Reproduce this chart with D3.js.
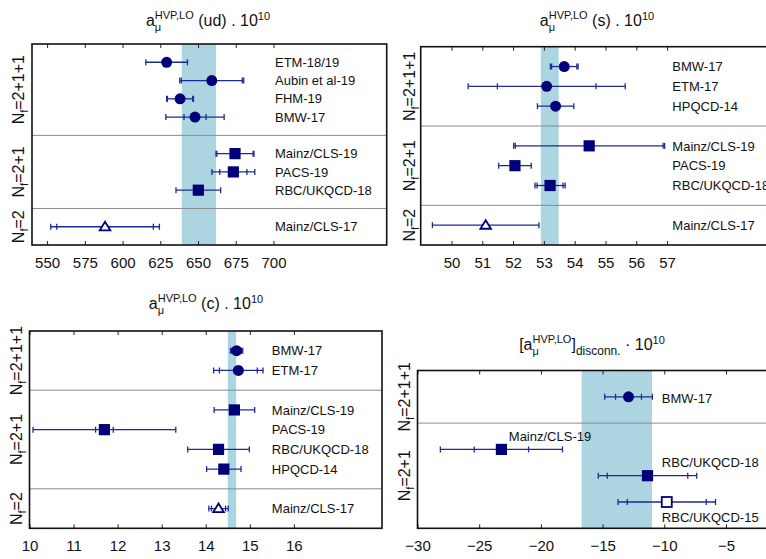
<!DOCTYPE html>
<html><head><meta charset="utf-8">
<script src="https://cdn.jsdelivr.net/npm/d3@7"></script>
<style>
body{margin:0;background:#fff}
text{font-family:"Liberation Sans",Arial,Helvetica,sans-serif;white-space:pre}
</style>
</head><body>
<svg id="chart" width="766" height="559"></svg>
<script>
// ---------------- DATA ----------------
const groupNames = ["2+1+1", "2+1", "2"];

// a_mu HVP,LO (ud)
const udNames   = ["ETM-18/19","Aubin et al-19","FHM-19","BMW-17","Mainz/CLS-19","PACS-19","RBC/UKQCD-18","Mainz/CLS-17"];
const udGroup   = [0,0,0,0,1,1,1,2];
const udValue   = [629.2,659.1,638.1,648.0,674.5,673.4,650.2,588.4];
const udErrStat = [13.8,20.2,8.4,7.3,12.0,9.0,14.8,32.0];
const udErrTot  = [13.8,21.2,8.9,19.3,12.6,14.2,14.8,36.0];
const udMarker  = ["circle","circle","circle","circle","square","square","square","triangle"];
const udBand    = [639.2, 661.9];
const udTicks   = [550,575,600,625,650,675,700];

// a_mu HVP,LO (s)
const sNames    = ["BMW-17","ETM-17","HPQCD-14","Mainz/CLS-19","PACS-19","RBC/UKQCD-18","Mainz/CLS-17"];
const sGroup    = [0,0,0,1,1,1,2];
const sValue    = [53.66,53.09,53.38,54.47,52.06,53.2,51.11];
const sErrStat  = [0.41,1.6,0.59,2.4,0.53,0.42,1.73];
const sErrTot   = [0.45,2.55,0.59,2.45,0.53,0.49,1.73];
const sMarker   = ["circle","circle","circle","square","square","square","triangle"];
const sBand     = [52.9, 53.48];
const sTicks    = [50,51,52,53,54,55,56,57];

// a_mu HVP,LO (c)
const cNames    = ["BMW-17","ETM-17","Mainz/CLS-19","PACS-19","RBC/UKQCD-18","HPQCD-14","Mainz/CLS-17"];
const cGroup    = [0,0,1,1,1,1,2];
const cValue    = [14.7,14.74,14.65,11.7,14.29,14.41,14.29];
const cErrStat  = [0.11,0.43,0.46,0.2,0.7,0.39,0.16];
const cErrTot   = [0.14,0.56,0.46,1.62,0.7,0.39,0.22];
const cMarker   = ["circle","circle","square","square","square","square","triangle"];
const cBand     = [14.5, 14.69];
const cTicks    = [10,11,12,13,14,15,16];

// [a_mu HVP,LO] disconnected
const dNames    = ["BMW-17","Mainz/CLS-19","RBC/UKQCD-18","RBC/UKQCD-15"];
const dGroup    = [0,1,1,1];
const dValue    = [-12.9,-23.2,-11.36,-9.8];
const dErrStat  = [1.05,2.2,3.26,3.2];
const dErrTot   = [1.93,4.95,3.99,3.95];
const dMarker   = ["circle","square","square","openSquare"];
const dBand     = [-16.7, -11.0];
const dTicks    = [-30,-25,-20,-15,-10,-5];

// ---------------- STYLE / LAYOUT ----------------
const POINT = "#000078", BAR = "#1d2a96", BAND = "#acd5e1";
const svg = d3.select("#chart");
svg.append("rect").attr("width",766).attr("height",559).attr("fill","#fff");

function build(names, group, value, stat, tot, marker){
  const rows = []; let slot = 1; const seps = []; const spans = [];
  let start = 0;
  for (let g = 0; g < groupNames.length; g++){
    const idx = names.map((_, i) => i).filter(i => group[i] === g);
    if (!idx.length) continue;
    idx.forEach(i => { rows.push({name:names[i], v:value[i], es:stat[i], et:tot[i], m:marker[i], slot:slot, g:g}); slot++; });
    spans.push({g:g, from:start, to:slot});
    seps.push(slot);
    start = slot; slot++;
  }
  seps.pop();
  return {rows, seps, spans, nSlots: start};
}

const panels = [
  {d: build(udNames,udGroup,udValue,udErrStat,udErrTot,udMarker), band: udBand, ticks: udTicks,
   xd:[540,775], xr:[32,386.7], yr:[44,245], labelX:701, grpX:24, title:{cx:208, y:26, kind:"(ud)"}},
  {d: build(sNames,sGroup,sValue,sErrStat,sErrTot,sMarker), band: sBand, ticks: sTicks,
   xd:[49,60.5], xr:[420.7,774.9], yr:[46.7,245], labelX:57.17, grpX:414.5, title:{cx:597, y:26, kind:"(s)"}},
  {d: build(cNames,cGroup,cValue,cErrStat,cErrTot,cMarker), band: cBand, ticks: cTicks,
   xd:[10,18], xr:[29.5,382], yr:[331,528.3], labelX:15.5, grpX:21.7, title:{cx:206, y:309, kind:"(c)"}},
  {d: build(dNames,dGroup,dValue,dErrStat,dErrTot,dMarker), band: dBand, ticks: dTicks,
   xd:[-30,0], xr:[417.5,787.7], yr:[370.5,528.3], labelX:-10.2, grpX:409.5, title:{cx:592, y:350, kind:"disc"},
   labelPlace: [{x:-10.2, dy:0.05}, {x:-22.6, dy:-0.5}, {x:-10.2, dy:-0.5}, {x:-10.2, dy:0.57}]}
];

function drawTitle(t){
  const txt = svg.append("text").attr("y", t.y).attr("font-size", 16).attr("fill","#111");
  txt.append("tspan").text(t.kind === "disc" ? "[a" : "a");
  const mu = txt.append("tspan").attr("font-size", 11).attr("dy", 5).text("μ");
  const muW = mu.node().getComputedTextLength();
  txt.append("tspan").attr("font-size", 11).attr("dx", -muW).attr("dy", -12).text("HVP,LO");
  if (t.kind === "disc"){
    txt.append("tspan").attr("dy", 7).text("]");
    txt.append("tspan").attr("font-size", 12).attr("dy", 5).text("disconn.");
    txt.append("tspan").attr("dy", -5).text(" · 10");
  } else {
    txt.append("tspan").attr("dy", 7).text(" " + t.kind + " . 10");
  }
  txt.append("tspan").attr("font-size", 11).attr("dy", -6).text("10");
  const w = txt.node().getBBox().width;
  txt.attr("x", t.cx - w / 2);
}

function drawMarker(g, type, x, y){
  if (type === "circle"){
    g.append("circle").attr("cx",x).attr("cy",y).attr("r",5.5).attr("fill",POINT);
  } else if (type === "square"){
    g.append("rect").attr("x",x-5.6).attr("y",y-5.6).attr("width",11.2).attr("height",11.2).attr("fill",POINT);
  } else if (type === "openSquare"){
    g.append("rect").attr("x",x-5).attr("y",y-5).attr("width",10).attr("height",10)
      .attr("fill","#fff").attr("stroke",POINT).attr("stroke-width",1.8);
  } else if (type === "triangle"){
    const p = d3.path(); p.moveTo(x, y-5); p.lineTo(x+5.3, y+3.6); p.lineTo(x-5.3, y+3.6); p.closePath();
    g.append("path").attr("d", p.toString()).attr("fill","#fff").attr("stroke",POINT).attr("stroke-width",1.8)
      .attr("stroke-linejoin","miter");
  }
}

panels.forEach(P => {
  const x = d3.scaleLinear().domain(P.xd).range(P.xr);
  const y = d3.scaleLinear().domain([0, P.d.nSlots]).range(P.yr);
  const g = svg.append("g");
  const [x0, x1] = P.xr, [y0, y1] = P.yr;

  // band
  g.append("rect").attr("x", x(P.band[0])).attr("y", y0)
    .attr("width", x(P.band[1]) - x(P.band[0])).attr("height", y1 - y0).attr("fill", BAND);

  // separators
  P.d.seps.forEach(s => g.append("line").attr("x1",x0).attr("x2",x1).attr("y1",y(s)).attr("y2",y(s))
    .attr("stroke","#8a8a8a").attr("stroke-width",1));

  // axes
  const ab = d3.axisBottom(x).tickValues(P.ticks).tickSizeInner(-4).tickSizeOuter(0).tickPadding(12.3);
  const ga = g.append("g").attr("transform", `translate(0,${y1})`).call(ab);
  ga.select(".domain").remove();
  ga.selectAll(".tick line").attr("stroke","#222").attr("stroke-width",1);
  ga.selectAll(".tick text").attr("font-size",15).attr("fill","#111")
    .attr("font-family",'"Liberation Sans",Arial,sans-serif');
  const at = d3.axisTop(x).tickValues(P.ticks).tickSizeInner(-4).tickSizeOuter(0).tickFormat("");
  const gt = g.append("g").attr("transform", `translate(0,${y0})`).call(at);
  gt.select(".domain").remove();
  gt.selectAll(".tick line").attr("stroke","#222").attr("stroke-width",1);

  // frame
  g.append("rect").attr("x",x0).attr("y",y0).attr("width",x1-x0).attr("height",y1-y0)
    .attr("fill","none").attr("stroke","#111").attr("stroke-width",1.6);

  // group labels
  P.d.spans.forEach(sp => {
    const t = g.append("text").attr("transform", `translate(${P.grpX},${y((sp.from+sp.to)/2)}) rotate(-90)`)
      .attr("text-anchor","middle").attr("font-size",16).attr("fill","#111");
    t.append("tspan").text("N");
    t.append("tspan").attr("font-size",11).attr("dy",4).text("f");
    t.append("tspan").attr("dy",-4).text("=" + groupNames[sp.g]);
  });

  // error bars + markers
  P.d.rows.forEach((r, i) => {
    const yy = y(r.slot);
    const eg = g.append("g").attr("stroke", BAR).attr("stroke-width", 1.3);
    eg.append("line").attr("x1", x(r.v - r.et)).attr("x2", x(r.v + r.et)).attr("y1", yy).attr("y2", yy);
    const caps = [r.v - r.et, r.v + r.et];
    if (Math.abs(r.et - r.es) > 1e-9) caps.push(r.v - r.es, r.v + r.es);
    caps.forEach(c => eg.append("line").attr("x1", x(c)).attr("x2", x(c)).attr("y1", yy - 3).attr("y2", yy + 3));
    drawMarker(g, r.m, x(r.v), yy);

    const lp = P.labelPlace ? P.labelPlace[i] : {x: P.labelX, dy: 0};
    g.append("text").attr("x", x(lp.x)).attr("y", y(r.slot + lp.dy)).attr("dy","0.36em")
      .attr("font-size",13).attr("fill","#111").text(r.name);
  });

  drawTitle(P.title);
});
</script>
</body></html>
